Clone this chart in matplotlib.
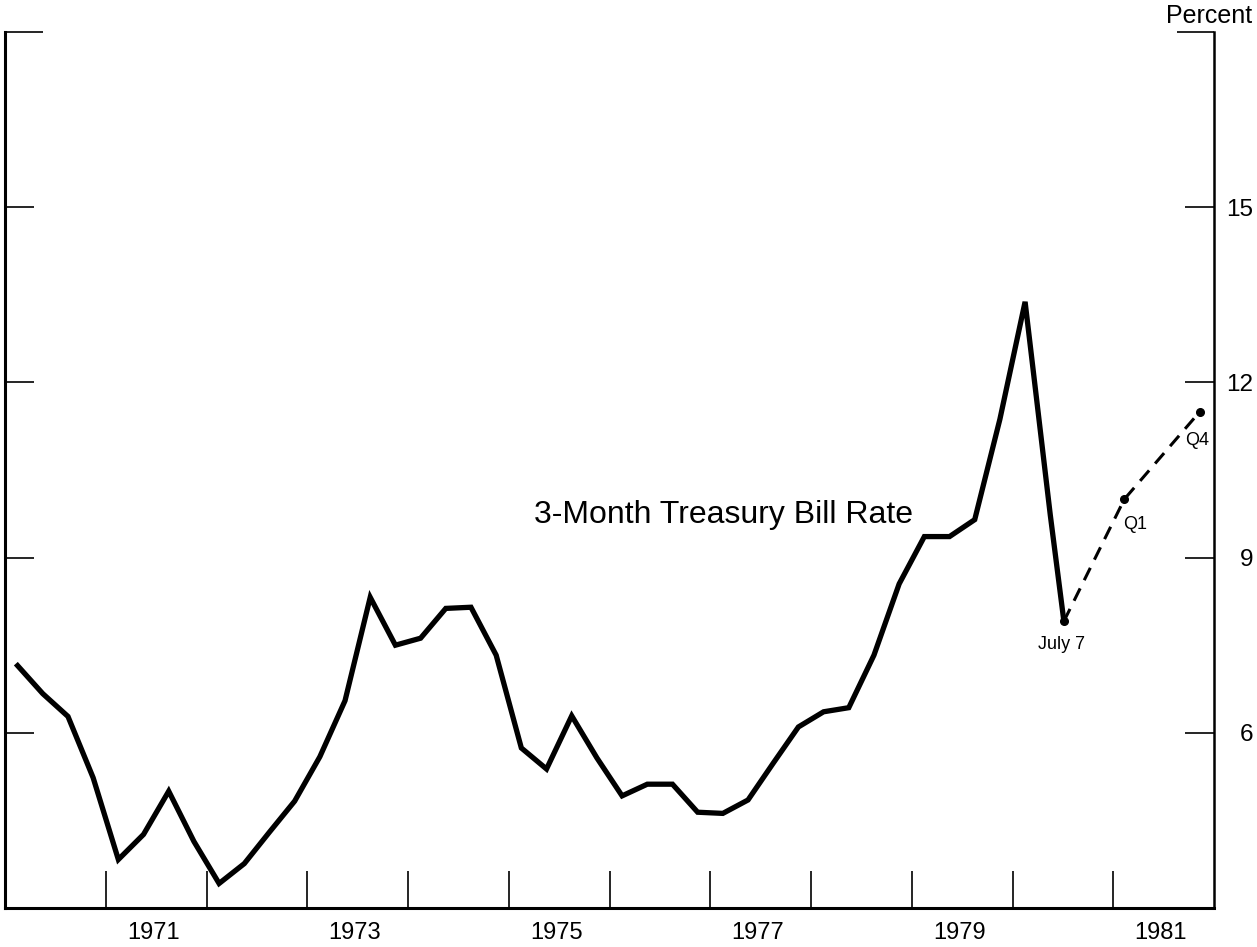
import matplotlib.pyplot as plt
from matplotlib.ticker import FixedLocator, FixedFormatter

plt.rcParams['font.family'] = ['Liberation Sans', 'DejaVu Sans']

# quarterly averages, 1970 Q1 .. 1980 Q2, then the July 7 reading
quarters = [1970.125 + 0.25 * i for i in range(42)]
tbill = [7.15, 6.67, 6.28, 5.23, 3.83, 4.26, 5.00, 4.14, 3.42, 3.76,
         4.30, 4.83, 5.59, 6.55, 8.32, 7.50, 7.62, 8.13, 8.15, 7.33,
         5.74, 5.38, 6.29, 5.57, 4.92, 5.12, 5.12, 4.64, 4.62, 4.85,
         5.48, 6.10, 6.36, 6.43, 7.33, 8.55, 9.36, 9.36, 9.65, 11.37,
         13.38, 9.73]
july7_x = 1980.51
july7_y = 7.91

# projection: July 7 -> 1981 Q1 -> 1981 Q4
proj_x = [july7_x, 1981.11, 1981.86]
proj_y = [july7_y, 10.0, 11.5]
proj_labels = ['July 7', 'Q1', 'Q4']

year_ticks = list(range(1971, 1982))
year_labels = ['1971', '1973', '1975', '1977', '1979', '1981']
y_ticks = [6, 9, 12, 15]
y_labels = ['6', '9', '12', '15']

fig = plt.figure(figsize=(12.57, 9.47), dpi=100)
ax = fig.add_axes([5 / 1257, 1 - 908 / 947, 1209 / 1257, (908 - 32) / 947])

ax.plot(quarters + [july7_x], tbill + [july7_y], color='black', lw=3.8,
        solid_joinstyle='miter', zorder=3)
ax.plot(proj_x, proj_y, color='black', lw=2.2, dashes=(4.5, 3), zorder=3)
ax.plot(proj_x, proj_y, 'o', color='black', ms=5.5, zorder=4)

ax.annotate(proj_labels[0], (proj_x[0], proj_y[0]), xytext=(-2, -17),
            textcoords='offset points', ha='center', va='center', fontsize=13)
ax.annotate(proj_labels[1], (proj_x[1], proj_y[1]), xytext=(8, -18),
            textcoords='offset points', ha='center', va='center', fontsize=13)
ax.annotate(proj_labels[2], (proj_x[2], proj_y[2]), xytext=(-2, -21),
            textcoords='offset points', ha='center', va='center', fontsize=13)

ax.text(1979.01, 9.6, '3-Month Treasury Bill Rate', ha='right',
        va='baseline', fontsize=23)

ax.set_xlim(1970, 1982)
ax.set_ylim(3, 18)

ax.xaxis.set_major_locator(FixedLocator(year_ticks))
ax.xaxis.set_major_formatter(FixedFormatter([''] * len(year_ticks)))
ax.xaxis.set_minor_locator(FixedLocator([int(y) + 0.47 for y in year_labels]))
ax.xaxis.set_minor_formatter(FixedFormatter(year_labels))
ax.tick_params(axis='x', which='major', direction='in', length=27, width=1.2)
ax.tick_params(axis='x', which='minor', length=0, pad=10, labelsize=17)

ax.yaxis.set_major_locator(FixedLocator(y_ticks))
ax.yaxis.set_major_formatter(FixedFormatter(y_labels))
ax.yaxis.set_minor_locator(FixedLocator([18]))
ax.yaxis.set_minor_formatter(FixedFormatter(['']))
ax.tick_params(axis='y', which='both', direction='in', width=1.2, left=True,
               right=True, labelleft=False, labelright=True)
ax.tick_params(axis='y', which='major', length=21, pad=28, labelsize=17.5)
ax.tick_params(axis='y', which='minor', length=27)
for lbl in ax.get_yticklabels():
    lbl.set_horizontalalignment('right')

ax.spines['top'].set_visible(False)
ax.spines['left'].set_linewidth(2.2)
ax.spines['bottom'].set_linewidth(2.2)
ax.spines['right'].set_linewidth(1.8)

fig.text(1252 / 1257, 1 - 16 / 947, 'Percent', ha='right', va='center',
         fontsize=18)

fig.savefig('out.png', dpi=100)
